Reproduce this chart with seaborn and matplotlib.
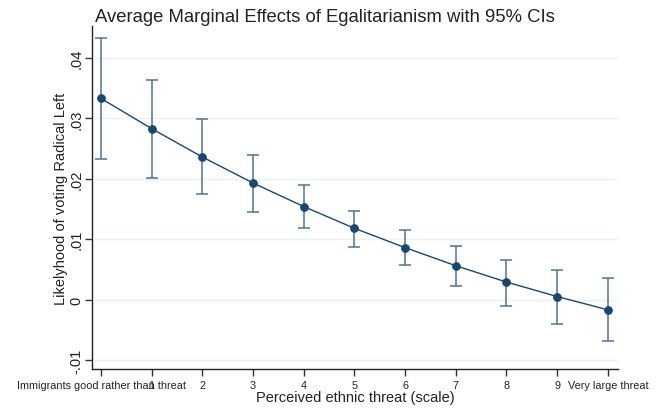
import matplotlib
matplotlib.use("Agg")
import matplotlib.pyplot as plt
import seaborn as sns
import pandas as pd
from matplotlib.ticker import FuncFormatter

threat = [0, 1, 2, 3, 4, 5, 6, 7, 8, 9, 10]
tick_labels = ["Immigrants good rather than threat", "1", "2", "3", "4", "5",
               "6", "7", "8", "9", "Very large threat"]
effect = [0.0333, 0.0283, 0.0236, 0.0193, 0.0154, 0.0118, 0.0086, 0.0056, 0.0029, 0.0005, -0.0017]
ci_low = [0.0233, 0.0202, 0.0174, 0.0145, 0.0118, 0.0087, 0.0057, 0.0022, -0.0010, -0.0040, -0.0068]
ci_high = [0.0433, 0.0363, 0.0299, 0.0240, 0.0190, 0.0147, 0.0115, 0.0088, 0.0066, 0.0049, 0.0036]
yticks = [-0.01, 0.0, 0.01, 0.02, 0.03, 0.04]

df = pd.DataFrame({"threat": threat, "effect": effect, "lo": ci_low, "hi": ci_high})

sns.set_style("white")
plt.rcParams["font.family"] = ["Liberation Sans", "DejaVu Sans"]

navy = "#1a476f"
fig = plt.figure(figsize=(6.56, 4.10), dpi=100)
ax = fig.add_axes([92 / 656, 1 - 370 / 410, (618 - 92) / 656, (370 - 27) / 410])

for yv in yticks:
    ax.axhline(yv, color="#eaf2f3", lw=1.0, zorder=0)

yerr = [df["effect"] - df["lo"], df["hi"] - df["effect"]]
ax.errorbar(df["threat"], df["effect"], yerr=yerr, fmt="none", ecolor="#4f7393",
            elinewidth=1.1, capsize=4, capthick=1.1, zorder=2)
sns.lineplot(data=df, x="threat", y="effect", ax=ax, color=navy, lw=1.0,
             marker="o", markersize=5.5, markeredgecolor=navy, markerfacecolor=navy, zorder=3)

ax.set_xlim(-0.178, 10.2)
ax.set_ylim(-0.0115, 0.0453)
ax.set_xticks(threat)
ax.set_xticklabels(tick_labels, fontsize=7.8, color="#222222")
ax.set_yticks(yticks)
ax.yaxis.set_major_formatter(FuncFormatter(
    lambda v, p: "0" if abs(v) < 1e-9 else ("%.2f" % v).replace("0.", ".")))
for lab in ax.get_yticklabels():
    lab.set_rotation(90)
    lab.set_va("center")
    lab.set_fontsize(10.5)
    lab.set_color("#222222")

ax.tick_params(axis="x", direction="out", length=5, width=1, color="#333333",
               bottom=True, pad=3)
ax.tick_params(axis="y", direction="out", length=5, width=1, color="#333333",
               left=True, pad=1)
for s in ["top", "right"]:
    ax.spines[s].set_visible(False)
for s in ["left", "bottom"]:
    ax.spines[s].set_color("#222222")
    ax.spines[s].set_linewidth(1.0)

ax.set_xlabel("Perceived ethnic threat (scale)", fontsize=10.5, color="#222222", labelpad=0)
ax.set_ylabel("Likelyhood of voting Radical Left", fontsize=10.5, color="#222222", labelpad=1)
fig.suptitle("Average Marginal Effects of Egalitarianism with 95% CIs", fontsize=13.3,
             color="#222222", x=0.496, y=0.978)

fig.savefig("out.png", dpi=100)
